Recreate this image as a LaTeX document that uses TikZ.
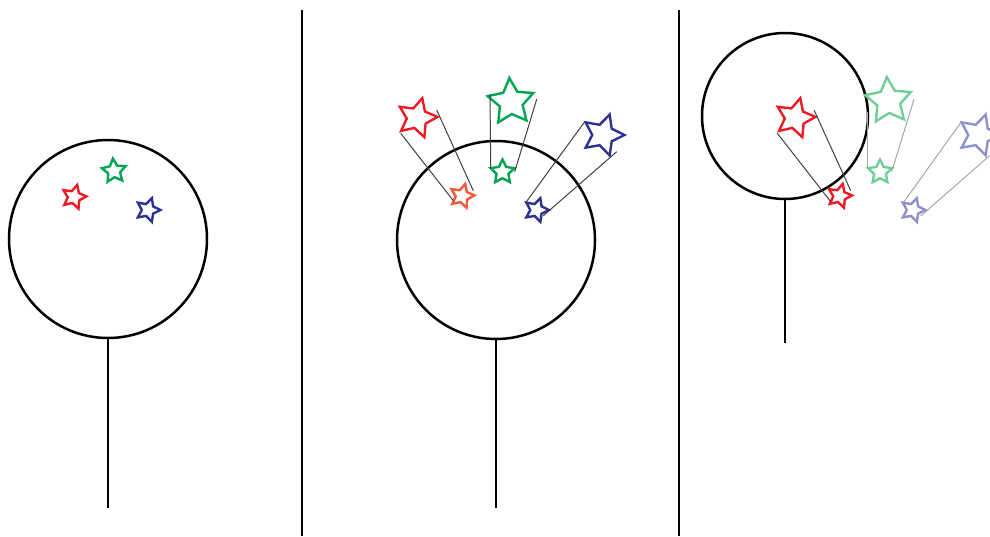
\documentclass[tikz,border=0pt]{standalone}
\usetikzlibrary{shapes.geometric}
\definecolor{sred}{RGB}{237,28,36}
\definecolor{sorange}{RGB}{241,90,58}
\definecolor{sgreen}{RGB}{0,166,81}
\definecolor{sblue}{RGB}{46,49,146}
\definecolor{sgreenlt}{RGB}{112,206,152}
\definecolor{sbluelt}{RGB}{143,145,204}

\begin{document}
\begin{tikzpicture}[x=1pt,y=-1pt,
  ball/.style={draw,circle,line width=2.5pt,inner sep=0pt,minimum size=#1},
  pole/.style={line width=1.8pt},
  sep/.style={line width=1.8pt},
  spark/.style={star,star points=5,star point ratio=2,draw,line width=2.4pt,inner sep=0pt,minimum size=#1},
  trail/.style={line width=1pt,draw=black!75},
  fade/.style={line width=1pt,draw=black!35}]
\useasboundingbox (0,0) rectangle (990,536);

% panel dividers
\draw[sep] (302,10) -- (302,536);
\draw[sep] (679,10) -- (679,536);

% first panel
\node[ball=198pt] (ball1) at (108,239) {};
\coordinate (foot1) at (108,508);
\draw[pole] (ball1.south) -- (foot1);
\node[spark=25pt,draw=sred,rotate=-15] (r1) at (74,197) {};
\node[spark=25pt,draw=sgreen,rotate=5] (g1) at (114,171) {};
\node[spark=25pt,draw=sblue,rotate=-18] (b1) at (148,210) {};

% second panel
\node[ball=198pt] (ball2) at (496,240) {};
\coordinate (foot2) at (496,508);
\draw[pole] (ball2.south) -- (foot2);
\node[spark=25pt,draw=sorange,rotate=-15] (r2) at (462,196) {};
\node[spark=25pt,draw=sgreen,rotate=0] (g2) at (502.5,172) {};
\node[spark=25pt,draw=sblue,rotate=-18] (b2) at (536.5,210) {};
\node[spark=41pt,draw=sred,rotate=-15] (R2) at (417,118) {};
\node[spark=48pt,draw=sgreen,rotate=4] (G2) at (511,102) {};
\node[spark=43pt,draw=sblue,rotate=-18] (B2) at (603,135) {};
\draw[trail] (400.7,133.3) -- (453.3,200.7);
\draw[trail] (436.7,110) -- (473.3,190.7);
\draw[trail] (490,94) -- (490.7,168);
\draw[trail] (536.7,99.3) -- (514.7,171.7);
\draw[trail] (584,122.7) -- (525.7,202.7);
\draw[trail] (616.7,151.7) -- (543.3,215.7);

% third panel
\node[ball=166pt] (ball3) at (785,116) {};
\coordinate (foot3) at (785,343);
\draw[pole] (ball3.south) -- (foot3);
\node[spark=25pt,draw=sred,rotate=-15] (r3) at (839.5,196) {};
\node[spark=25pt,draw=sgreenlt,rotate=0] (g3) at (880,172) {};
\node[spark=25pt,draw=sbluelt,rotate=-18] (b3) at (913,210) {};
\node[spark=41pt,draw=sred,rotate=-15] (R3) at (795,118) {};
\node[spark=48pt,draw=sgreenlt,rotate=4] (G3) at (888.5,101) {};
\node[spark=43pt,draw=sbluelt,rotate=-18] (B3) at (979,135) {};
\draw[trail] (777.3,133.3) -- (830.7,201.7);
\draw[trail] (814,110) -- (850.7,190.7);
\draw[fade] (867.7,112) -- (867.7,167);
\draw[fade] (914,99.3) -- (891.7,171.7);
\draw[fade] (960.7,122.7) -- (903.3,202.7);
\draw[fade] (993,152.7) -- (920.7,216);
\end{tikzpicture}
\end{document}
